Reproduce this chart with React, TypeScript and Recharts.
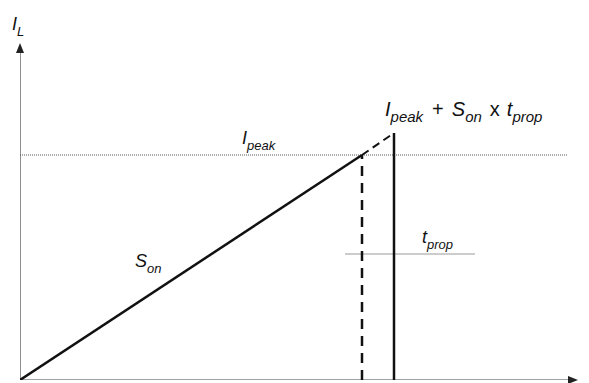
import React from 'react';
import { LineChart, Line, XAxis, YAxis, ReferenceDot } from 'recharts';

// chart units: t along x, inductor current along y
const tOn = 342;
const tProp = 32;
const iPeak = 225;
const iOvershoot = 247;

const rampPoints = [
  { t: 0, i: 0 },
  { t: tOn, i: iPeak },
];
const overshootPoints = [
  { t: tOn, i: iPeak },
  { t: tOn + tProp, i: iOvershoot },
];
const peakLevel = [
  { t: 0, i: iPeak },
  { t: 547, i: iPeak },
];
const switchOffDrop = [
  { t: tOn, i: 0 },
  { t: tOn, i: iPeak },
];
const turnOffDrop = [
  { t: tOn + tProp, i: 0 },
  { t: tOn + tProp, i: iOvershoot },
];
const tPropMarker = [
  { t: 325, i: 126 },
  { t: 455, i: 126 },
];
const xAxisLine = [
  { t: 0, i: 0 },
  { t: 552, i: 0 },
];
const yAxisLine = [
  { t: 0, i: 0 },
  { t: 0, i: 331 },
];

type Part = { text: string; sub?: boolean; italic?: boolean; dx?: number };

const labels: { t: number; i: number; size: number; sub: number; parts: Part[] }[] = [
  { t: -8, i: 350, size: 18, sub: 13, parts: [{ text: 'I', italic: true }, { text: 'L', sub: true, italic: true }] },
  { t: 222, i: 236, size: 18, sub: 13, parts: [{ text: 'I', italic: true }, { text: 'peak', sub: true, italic: true }] },
  {
    t: 365,
    i: 264,
    size: 20,
    sub: 15,
    parts: [
      { text: 'I', italic: true },
      { text: 'peak', sub: true, italic: true },
      { text: '+', dx: 9 },
      { text: 'S', italic: true, dx: 8 },
      { text: 'on', sub: true, italic: true },
      { text: 'x', dx: 8 },
      { text: 't', italic: true, dx: 7 },
      { text: 'prop', sub: true, italic: true },
    ],
  },
  { t: 402, i: 137, size: 18, sub: 13, parts: [{ text: 't', italic: true }, { text: 'prop', sub: true, italic: true }] },
  { t: 115, i: 113, size: 18, sub: 13, parts: [{ text: 'S', italic: true }, { text: 'on', sub: true, italic: true }] },
];

const SUB_SHIFT = 6;

const renderLabel = (parts: Part[], size: number, subSize: number) => (props: any) => {
  const { cx, cy } = props;
  let shifted = false;
  return (
    <text x={cx} y={cy} fill="#111" fontFamily="'Liberation Sans', Arial, sans-serif" fontSize={size}>
      {parts.map((p, k) => {
        let dy = 0;
        if (p.sub && !shifted) {
          dy = SUB_SHIFT;
          shifted = true;
        } else if (!p.sub && shifted) {
          dy = -SUB_SHIFT;
          shifted = false;
        }
        return (
          <tspan
            key={k}
            dx={p.dx ?? 0}
            dy={dy}
            fontSize={p.sub ? subSize : size}
            fontStyle={p.italic ? 'italic' : 'normal'}
          >
            {p.text}
          </tspan>
        );
      })}
    </text>
  );
};

const arrowHead = (dir: 'up' | 'right') => (props: any) => {
  const { cx, cy } = props;
  const pts =
    dir === 'right'
      ? `${cx},${cy} ${cx - 10},${cy - 4} ${cx - 10},${cy + 4}`
      : `${cx},${cy} ${cx - 4},${cy + 10} ${cx + 4},${cy + 10}`;
  return <polygon points={pts} fill="#222" />;
};

export default function App() {
  return (
    <div style={{ position: 'absolute', left: 0, top: 0, width: 589, height: 383, background: '#fff' }}>
      <LineChart width={589} height={383} margin={{ top: 40, right: 9, left: 20, bottom: 3 }}>
        <XAxis type="number" dataKey="t" domain={[0, 560]} hide allowDataOverflow />
        <YAxis type="number" dataKey="i" domain={[0, 340]} hide allowDataOverflow />

        <Line data={xAxisLine} dataKey="i" stroke="#444" strokeWidth={1.2} dot={false} isAnimationActive={false} />
        <Line data={yAxisLine} dataKey="i" stroke="#444" strokeWidth={1.2} dot={false} isAnimationActive={false} />
        <Line data={peakLevel} dataKey="i" stroke="#555" strokeWidth={1} strokeDasharray="1 1" dot={false} isAnimationActive={false} />
        <Line data={tPropMarker} dataKey="i" stroke="#999" strokeWidth={1} dot={false} isAnimationActive={false} />
        <Line data={rampPoints} dataKey="i" stroke="#111" strokeWidth={2.5} dot={false} isAnimationActive={false} />
        <Line data={overshootPoints} dataKey="i" stroke="#111" strokeWidth={2} strokeDasharray="8 5" dot={false} isAnimationActive={false} />
        <Line data={switchOffDrop} dataKey="i" stroke="#111" strokeWidth={2.5} strokeDasharray="10 7" dot={false} isAnimationActive={false} />
        <Line data={turnOffDrop} dataKey="i" stroke="#111" strokeWidth={2.5} dot={false} isAnimationActive={false} />

        <ReferenceDot x={558} y={0} r={0} ifOverflow="visible" shape={arrowHead('right')} />
        <ReferenceDot x={0} y={337} r={0} ifOverflow="visible" shape={arrowHead('up')} />

        {labels.map((l, k) => (
          <ReferenceDot key={k} x={l.t} y={l.i} r={0} ifOverflow="visible" shape={renderLabel(l.parts, l.size, l.sub)} />
        ))}
      </LineChart>
    </div>
  );
}
